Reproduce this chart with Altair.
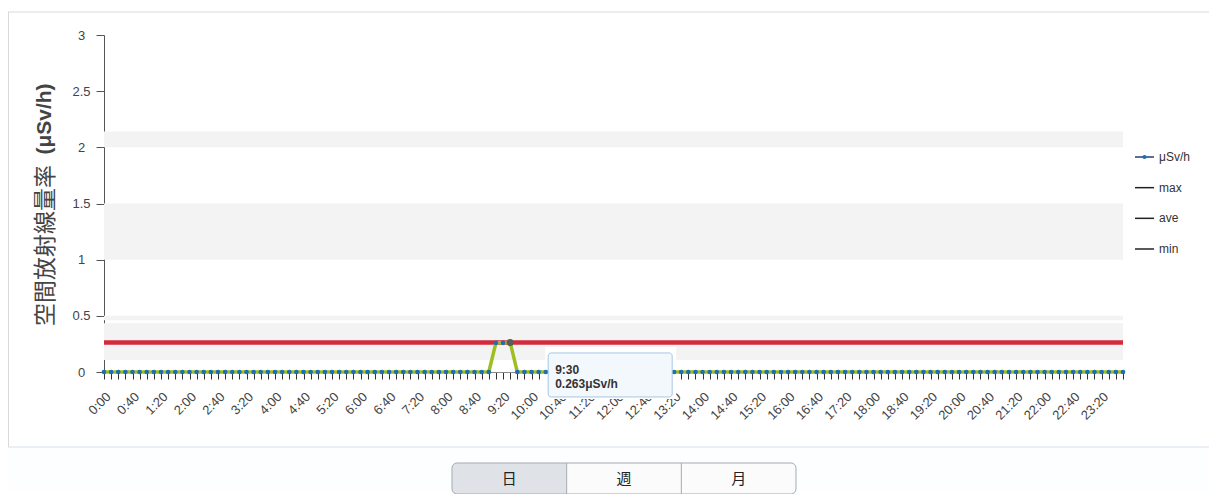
import altair as alt
import pandas as pd

# ---------------- data ----------------
times = [f"{h}:{m:02d}" for h in range(24) for m in range(0, 60, 10)]
dose = [
    0, 0, 0, 0, 0, 0, 0, 0, 0, 0, 0, 0,            # 0:00 - 1:50
    0, 0, 0, 0, 0, 0, 0, 0, 0, 0, 0, 0,            # 2:00 - 3:50
    0, 0, 0, 0, 0, 0, 0, 0, 0, 0, 0, 0,            # 4:00 - 5:50
    0, 0, 0, 0, 0, 0, 0, 0, 0, 0, 0, 0,            # 6:00 - 7:50
    0, 0, 0, 0, 0, 0, 0, 0.26, 0.26, 0.263, 0, 0,  # 8:00 - 9:50
    0, 0, 0, 0, 0, 0, 0, 0, 0, 0, 0, 0,            # 10:00 - 11:50
    0, 0, 0, 0, 0, 0, 0, 0, 0, 0, 0, 0,            # 12:00 - 13:50
    0, 0, 0, 0, 0, 0, 0, 0, 0, 0, 0, 0,            # 14:00 - 15:50
    0, 0, 0, 0, 0, 0, 0, 0, 0, 0, 0, 0,            # 16:00 - 17:50
    0, 0, 0, 0, 0, 0, 0, 0, 0, 0, 0, 0,            # 18:00 - 19:50
    0, 0, 0, 0, 0, 0, 0, 0, 0, 0, 0, 0,            # 20:00 - 21:50
    0, 0, 0, 0, 0, 0, 0, 0, 0, 0, 0, 0,            # 22:00 - 23:50
]
alert_level = [0.263]
band_lo = [0.107, 0.46, 1.0, 2.0]
band_hi = [0.433, 0.5, 1.5, 2.14]
y_ticks = [0, 0.5, 1, 1.5, 2, 2.5, 3]
hover_time = "9:30"
hover_unit = "μSv/h"
legend_labels = ["μSv/h", "max", "ave", "min"]
buttons = ["日", "週", "月"]
y_title = "空間放射線量率"
y_title_unit = "(μSv/h)"

minutes = [i * 10 for i in range(len(times))]
df = pd.DataFrame({"time": times, "minute": minutes, "dose": dose})
hover_idx = times.index(hover_time)
hover_df = pd.DataFrame({
    "minute": [minutes[hover_idx]],
    "dose": [dose[hover_idx]],
    "time": [hover_time],
    "label": [f"{dose[hover_idx]}{hover_unit}"],
})
bands_df = pd.DataFrame({"lo": band_lo, "hi": band_hi})
alert_df = pd.DataFrame({"level": alert_level})

W, H = 1019, 337
FONT = "Liberation Sans, Noto Sans CJK JP"

x_axis = alt.Axis(
    values=minutes, title="", grid=False, zindex=0,
    labelExpr="datum.value % 40 == 0 ? floor(datum.value/60) + ':' + (datum.value % 60 < 10 ? '0' : '') + (datum.value % 60) : ''",
    labelAngle=315, labelAlign="right", labelBaseline="top", labelPadding=11,
    labelFlush=False, labelOverlap=False, labelBound=False,
    labelFontSize=13, labelColor="#444", labelFont=FONT,
    tickSize=7, tickColor="#333", domainColor="#888",
)
y_axis = alt.Axis(
    values=y_ticks, format="~g", grid=False, zindex=0,
    labelAlign="center", labelBaseline="middle", labelPadding=15,
    labelFontSize=13, labelColor="#444", labelFont=FONT,
    tickSize=8, tickColor="#555", domainColor="#555",
    title=y_title, titleX=-59, titleY=210, titleAngle=270,
    titleAlign="center", titleBaseline="middle",
    titleFontSize=23, titleFontWeight="normal", titleColor="#444", titleFont="Noto Sans CJK JP",
)
x_scale = alt.Scale(domain=[0, 1430], nice=False, zero=False)
y_scale = alt.Scale(domain=[0, 3], nice=False)

X = alt.X("minute:Q", scale=x_scale, axis=x_axis)
Y = alt.Y("dose:Q", scale=y_scale, axis=y_axis)

bands = alt.Chart(bands_df).mark_rect(color="#f3f3f3").encode(
    x=alt.value(0), x2=alt.value("width"),
    y=alt.Y("lo:Q", scale=y_scale, axis=y_axis), y2="hi:Q",
)
alert = alt.Chart(alert_df).mark_rule(color="#d42a3c", strokeWidth=4.5).encode(
    x=alt.value(0), x2=alt.value("width"),
    y=alt.Y("level:Q", scale=y_scale, axis=y_axis),
)
backdrop = alt.Chart(hover_df).mark_rect(
    color="white", xOffset=35, x2Offset=166, yOffset=4.5, y2Offset=56.5
).encode(x=X, x2="minute:Q", y=Y, y2="dose:Q")
line = alt.Chart(df).mark_line(color="#9fbe1f", strokeWidth=3.5).encode(x=X, y=Y)
pts = alt.Chart(df).mark_circle(color="#1f6eb4", size=22, opacity=1).encode(x=X, y=Y)
hover_pt = alt.Chart(hover_df).mark_circle(color="#5c5c5c", size=50, opacity=1).encode(x=X, y=Y)
tip_box = alt.Chart(hover_df).mark_rect(
    fill="#f3f8fd", stroke="#a6c6e6", strokeWidth=1, cornerRadius=3,
    xOffset=38, x2Offset=162, yOffset=10.5, y2Offset=54.5,
).encode(x=X, x2="minute:Q", y=Y, y2="dose:Q")
tip_t1 = alt.Chart(hover_df).mark_text(
    align="left", baseline="middle", dx=45, dy=27.5, fontSize=12,
    fontWeight="bold", font=FONT, color="#333",
).encode(x=X, y=Y, text="time:N")
tip_t2 = alt.Chart(hover_df).mark_text(
    align="left", baseline="middle", dx=45, dy=41.5, fontSize=12,
    fontWeight="bold", font=FONT, color="#333",
).encode(x=X, y=Y, text="label:N")

main = alt.layer(bands, alert, backdrop, line, pts, hover_pt, tip_box, tip_t1, tip_t2)

# ---------------- y-axis title unit (bold part) ----------------
one = alt.Data(values=[{}])
unit_title = alt.Chart(one).mark_text(
    text=y_title_unit, angle=270, fontSize=21, fontWeight="bold", font=FONT,
    color="#444", align="center", baseline="middle",
).encode(x=alt.value(-59), y=alt.value(84))

# ---------------- legend ----------------
leg_df = pd.DataFrame({"label": legend_labels})
leg_y = alt.Y("label:N", axis=None,
              scale=alt.Scale(type="point", domain=legend_labels, range=[122, 214], padding=0))
leg_lines = alt.Chart(leg_df).mark_rule(strokeWidth=1.5).encode(
    x=alt.value(1031), x2=alt.value(1050), y=leg_y,
    color=alt.Color("label:N", legend=None,
                    scale=alt.Scale(domain=legend_labels, range=["#23406a", "#222", "#222", "#222"])))
leg_dot = alt.Chart(leg_df).transform_filter(
    alt.datum.label == legend_labels[0]
).mark_circle(color="#1f6eb4", size=18, opacity=1).encode(x=alt.value(1040.5), y=leg_y)
leg_text = alt.Chart(leg_df).mark_text(
    align="left", baseline="middle", fontSize=12, color="#333", font=FONT
).encode(x=alt.value(1055), y=leg_y, text="label:N")
legend = alt.layer(leg_lines, leg_dot, leg_text)

# ---------------- page decoration ----------------
bottom_bg = alt.Chart(one).mark_rect(color="#fdfeff").encode(
    x=alt.value(-96), x2=alt.value(1105), y=alt.value(412), y2=alt.value(455))
top_border = alt.Chart(one).mark_rule(color="#d9d9d9").encode(
    x=alt.value(-96), x2=alt.value(1105), y=alt.value(-23))
left_border = alt.Chart(one).mark_rule(color="#d9d9d9").encode(
    x=alt.value(-95.5), y=alt.value(-23), y2=alt.value(412))
separator = alt.Chart(one).mark_rule(color="#d5e1ea").encode(
    x=alt.value(-96), x2=alt.value(1105), y=alt.value(412))

bx0, bx1, by0, by1 = 348, 692, 428, 459
seg = (bx1 - bx0) / len(buttons)
btn_bg = alt.Chart(one).mark_rect(fill="#fbfbfb", cornerRadius=5).encode(
    x=alt.value(bx0), x2=alt.value(bx1), y=alt.value(by0), y2=alt.value(by1))
btn_sel = alt.Chart(one).mark_rect(
    fill="#dfe3e7", cornerRadiusTopLeft=5, cornerRadiusBottomLeft=5
).encode(x=alt.value(bx0), x2=alt.value(bx0 + seg), y=alt.value(by0), y2=alt.value(by1))
btn_border = alt.Chart(one).mark_rect(
    fillOpacity=0, stroke="#a3abb3", strokeWidth=1, cornerRadius=5
).encode(x=alt.value(bx0), x2=alt.value(bx1), y=alt.value(by0), y2=alt.value(by1))
btn_layers = [btn_bg, btn_sel]
for i in range(1, len(buttons)):
    btn_layers.append(alt.Chart(one).mark_rule(color="#a3abb3").encode(
        x=alt.value(bx0 + seg * i), y=alt.value(by0), y2=alt.value(by1)))
btn_layers.append(btn_border)
for i, b in enumerate(buttons):
    btn_layers.append(alt.Chart(one).mark_text(
        text=b, fontSize=15, font="Noto Sans CJK JP", color="#222",
        align="center", baseline="middle",
    ).encode(x=alt.value(bx0 + seg * (i + 0.5)), y=alt.value((by0 + by1) / 2)))

chart = alt.layer(
    bottom_bg, top_border, left_border, separator,
    main, unit_title, legend, *btn_layers,
).resolve_scale(y="independent", color="independent").properties(
    width=W, height=H,
    autosize=alt.AutoSizeParams(type="none"),
    padding={"left": 96, "top": 27, "right": 86, "bottom": 122},
    background="white",
).configure_view(stroke="transparent")

chart.save("out.html", embed_options={"renderer": "svg", "actions": False})
